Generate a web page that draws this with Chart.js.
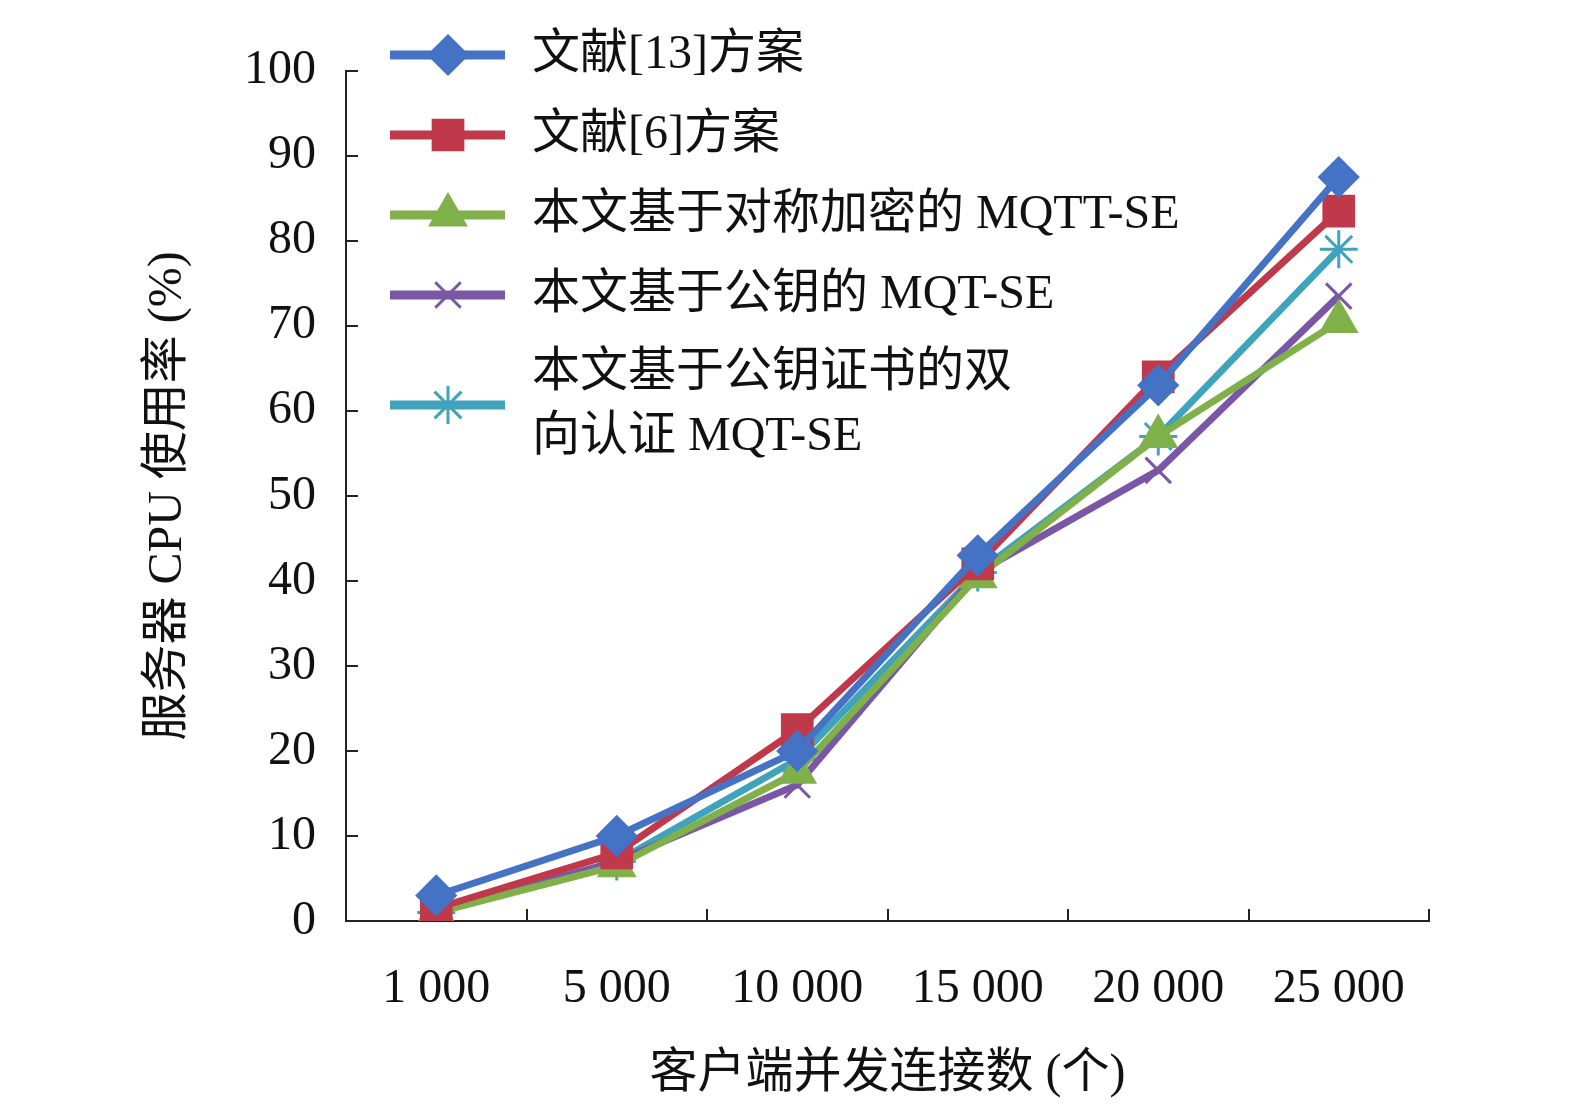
<!DOCTYPE html>
<html><head><meta charset="utf-8">
<script src="https://cdn.jsdelivr.net/npm/chart.js@4"></script>
<style>html,body{margin:0;background:#fff}#w{width:1575px;height:1107px}</style>
</head><body><div id="w"><canvas id="c"></canvas></div>
<script>
const categories=['1 000','5 000','10 000','15 000','20 000','25 000'];
const s13=[3,10,20,43,63,87.5];
const s6=[1.5,8,22.5,42,64,83.5];
const sSym=[1,6.5,17.5,40.5,57,70.5];
const sPub=[1,7,16,41,53,73.5];
const sCert=[1,7,19,41,57,79];
const names=['文献[13]方案','文献[6]方案','本文基于对称加密的 MQTT-SE','本文基于公钥的 MQT-SE',['本文基于公钥证书的双','向认证 MQT-SE']];
const colors=['#4472c4','#c0394a','#7fb04a','#7a56a6','#3fa3bb'];
const styles=['rectRot','rect','triangle','crossRot','star'];
const radii=[19,21,20,18,19];
const F='"Liberation Serif","Noto Sans CJK SC",serif';
const data=[s13,s6,sSym,sPub,sCert];
const legendPlugin={id:'lg',afterDraw(ch){const c=ch.ctx;const ys=[55,135,215,295,405];
 c.save();names.forEach((n,i)=>{c.strokeStyle=colors[i];c.fillStyle=colors[i];c.lineWidth=9;c.beginPath();c.moveTo(390,ys[i]);c.lineTo(505,ys[i]);c.stroke();c.lineWidth=3;
 Chart.helpers.drawPoint(c,{pointStyle:styles[i],radius:radii[i],borderWidth:3,rotation:0},448,ys[i]);
 c.fillStyle='#111';c.font='48px '+F;c.textBaseline='middle';
 if(Array.isArray(n)){c.fillText(n[0],532,ys[i]-32);c.fillText(n[1],532,ys[i]+32);}else c.fillText(n,532,ys[i]);});c.restore();}};
new Chart(document.getElementById('c'),{type:'line',
 data:{labels:categories,datasets:data.map((d,i)=>({label:Array.isArray(names[i])?names[i].join(''):names[i],data:d,borderColor:colors[i],backgroundColor:colors[i],borderWidth:7,pointStyle:styles[i],pointRadius:radii[i],pointBorderWidth:3,tension:0}))},
 options:{responsive:true,maintainAspectRatio:false,animation:false,
  layout:{padding:{top:-13,right:146,left:0,bottom:0}},
  plugins:{legend:{display:false},tooltip:{enabled:false}},
  scales:{
   x:{offset:true,grid:{display:true,drawOnChartArea:false,offset:true,color:'#222',tickLength:-12,lineWidth:2},border:{color:'#222',width:2},
    ticks:{color:'#111',font:{family:F,size:48},padding:52,maxRotation:0},
    title:{display:true,text:'客户端并发连接数 (个)',color:'#111',font:{family:F,size:48},padding:{top:4}},
    afterFit(s){s.height=186;}},
   y:{min:0,max:100,grid:{drawOnChartArea:false,color:'#222',tickLength:-12,lineWidth:2},border:{color:'#222',width:2},
    ticks:{stepSize:10,color:'#111',font:{family:F,size:48},padding:42},
    title:{display:true,text:'服务器 CPU 使用率 (%)',color:'#111',font:{family:F,size:48},padding:{top:140,bottom:10}},
    afterFit(s){s.width=346;}}}},
 plugins:[legendPlugin]});
</script></body></html>
